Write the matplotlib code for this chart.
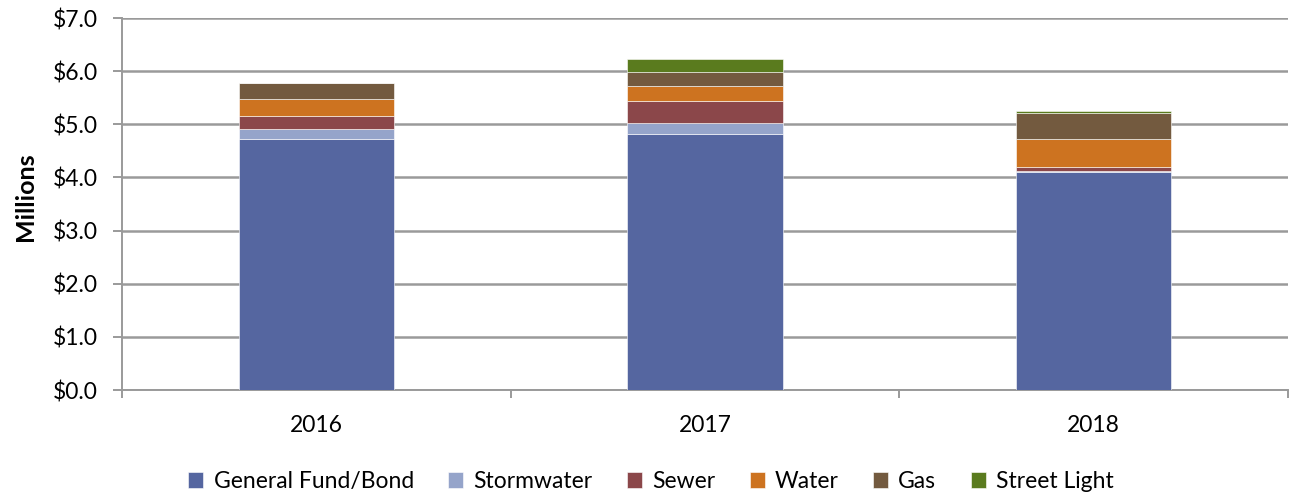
import matplotlib
matplotlib.use("Agg")
import matplotlib.pyplot as plt
import numpy as np
from matplotlib.ticker import FuncFormatter, FixedLocator

years = ["2016", "2017", "2018"]
general_fund = [4.73, 4.81, 4.11]
stormwater = [0.19, 0.21, 0.02]
sewer = [0.24, 0.41, 0.06]
water = [0.32, 0.29, 0.53]
gas = [0.30, 0.26, 0.50]
street_light = [0.00, 0.24, 0.03]

series = [
    ("General Fund/Bond", general_fund, "#5566A0"),
    ("Stormwater", stormwater, "#95A4CA"),
    ("Sewer", sewer, "#8B474A"),
    ("Water", water, "#CD7320"),
    ("Gas", gas, "#735A3F"),
    ("Street Light", street_light, "#5A7B1E"),
]

plt.rcParams["font.family"] = ["Lato", "DejaVu Sans"]
FS = 16.5

fig = plt.figure(figsize=(12.91, 4.96), dpi=100)
ax = fig.add_axes([122 / 1291, 1 - 390 / 496, (1288 - 122) / 1291, (390 - 18) / 496])

x = np.arange(len(years))
bottom = np.zeros(len(years))
for name, vals, col in series:
    vals = np.array(vals)
    ax.bar(x, vals, width=0.4, bottom=bottom, color=col, label=name,
           edgecolor="#FFFFFF", linewidth=0.4, zorder=3)
    bottom += vals

ax.set_ylim(0, 7)
ax.set_xlim(-0.5, 2.5)
ax.set_yticks(np.arange(0, 8, 1))
ax.yaxis.set_major_formatter(FuncFormatter(lambda v, p: f"${v:.1f}"))
ax.grid(axis="y", color="#9A9A9A", linewidth=1.8, zorder=0)
ax.set_axisbelow(True)

ax.set_xticks(x)
ax.set_xticklabels(years)
ax.xaxis.set_minor_locator(FixedLocator([-0.5, 0.5, 1.5, 2.5]))
ax.tick_params(axis="x", which="major", length=0, pad=18, labelsize=FS)
ax.tick_params(axis="x", which="minor", length=6, width=1.4, color="#9A9A9A", direction="out")
ax.tick_params(axis="y", length=6.5, width=1.4, color="#9A9A9A", direction="out", labelsize=FS, pad=11)

for s in ["top", "right"]:
    ax.spines[s].set_visible(False)
for s in ["left", "bottom"]:
    ax.spines[s].set_color("#9A9A9A")
    ax.spines[s].set_linewidth(1.4)

ax.set_ylabel("Millions", fontsize=18, fontweight="bold")
ax.yaxis.set_label_coords(-0.073, 0.52)

ax.legend(loc="lower center", bbox_to_anchor=(0.5 - 54 / 1166, -0.33), ncol=6, frameon=False,
          fontsize=FS, handlelength=0.65, handleheight=0.65, handletextpad=0.45, columnspacing=1.5)

fig.savefig("out.png", dpi=100)
